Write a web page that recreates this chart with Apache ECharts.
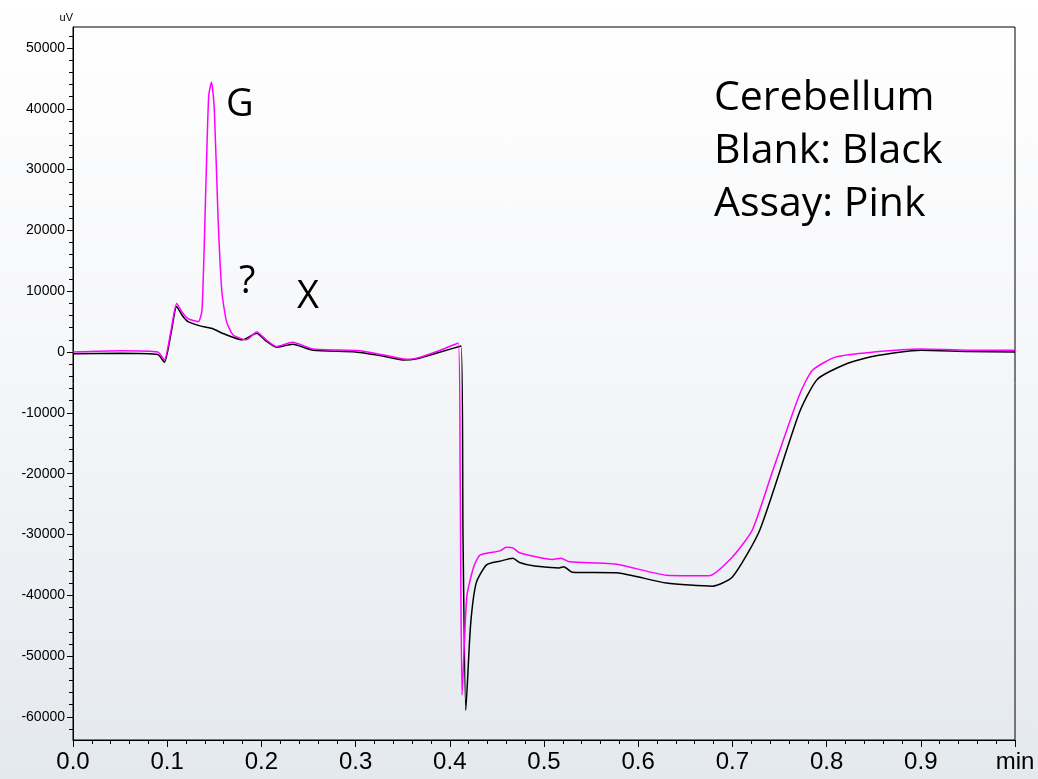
<!DOCTYPE html>
<html>
<head>
<meta charset="utf-8">
<script src="https://cdn.jsdelivr.net/npm/echarts@6/dist/echarts.min.js"></script>
<style>
  html,body{margin:0;padding:0;}
  body{background:linear-gradient(to bottom,#ffffff 0%,#f6f7f9 45%,#e4e9ee 100%);}
  #main{width:1038px;height:779px;}
</style>
</head>
<body>
<div id="main"></div>
<script>
// retention time (min) / signal (uV)
var blankX = [0, 0.05, 0.09, 0.097, 0.104, 0.110, 0.116, 0.122, 0.135, 0.147, 0.16, 0.18, 0.195, 0.205, 0.216, 0.233, 0.255, 0.30, 0.33, 0.35, 0.365, 0.39, 0.412, 0.414, 0.417, 0.422, 0.428, 0.439, 0.453, 0.467, 0.474, 0.49, 0.516, 0.521, 0.530, 0.577, 0.630, 0.679, 0.700, 0.729, 0.771, 0.79, 0.82, 0.85, 0.90, 0.95, 1.0];
var blankY = [-300, -200, -400, -1700, 3000, 7500, 6000, 5000, 4300, 3900, 3000, 2000, 3100, 1800, 800, 1300, 300, 0, -700, -1300, -1100, 0, 1000, -30000, -58900, -45000, -38000, -35000, -34400, -33900, -34600, -35200, -35500, -35300, -36200, -36300, -38000, -38500, -37000, -29300, -10000, -4500, -2000, -700, 300, 100, 0];
var assayX = [0, 0.05, 0.09, 0.097, 0.104, 0.110, 0.116, 0.122, 0.133, 0.137, 0.141, 0.144, 0.147, 0.150, 0.154, 0.158, 0.163, 0.170, 0.184, 0.195, 0.205, 0.216, 0.233, 0.255, 0.304, 0.33, 0.354, 0.365, 0.39, 0.409, 0.411, 0.413, 0.418, 0.425, 0.432, 0.453, 0.460, 0.467, 0.474, 0.509, 0.518, 0.527, 0.577, 0.630, 0.675, 0.700, 0.721, 0.742, 0.771, 0.785, 0.81, 0.85, 0.90, 0.95, 1.0];
var assayY = [0, 200, 0, -1300, 3500, 8000, 6500, 5500, 5000, 7000, 27000, 42000, 44400, 40000, 22000, 10000, 5000, 2800, 2000, 3300, 2000, 900, 1600, 500, 200, -500, -1200, -1000, 300, 1500, -20000, -56400, -40300, -35500, -33400, -32700, -32100, -32200, -33000, -34100, -33900, -34500, -34900, -36700, -36800, -33700, -29300, -19900, -7100, -3000, -800, 0, 500, 300, 300];
var yMajor = [50000, 40000, 30000, 20000, 10000, 0, -10000, -20000, -30000, -40000, -50000, -60000];

function pairs(xs, ys) {
  var out = [];
  for (var i = 0; i < xs.length; i++) out.push([xs[i], ys[i]]);
  return out;
}
var yMinor = [];
for (var v = -62000; v <= 52000; v += 2000) yMinor.push(v);

var chart = echarts.init(document.getElementById('main'));
chart.setOption({
  backgroundColor: 'transparent',
  animation: false,
  grid: {left: 73, right: 23, top: 27, bottom: 39, show: true, borderColor: '#000', borderWidth: 1},
  xAxis: {
    type: 'value', min: 0, max: 1.0, interval: 0.1,
    axisLine: {onZero: false, lineStyle: {color: '#000'}},
    axisTick: {length: 7, lineStyle: {color: '#000'}},
    minorTick: {show: true, splitNumber: 5, length: 4, lineStyle: {color: '#000'}},
    splitLine: {show: false},
    axisLabel: {fontSize: 24, color: '#000', fontFamily: 'Liberation Sans', margin: 10,
      formatter: function (v) { return v >= 0.999 ? 'min' : v.toFixed(1); }}
  },
  yAxis: [{
    type: 'value', min: -63800, max: 53450,
    axisLine: {show: true, onZero: false, lineStyle: {color: '#000'}},
    axisTick: {show: true, length: 6, customValues: yMajor, lineStyle: {color: '#000'}},
    axisLabel: {customValues: yMajor, fontSize: 14, color: '#000', fontFamily: 'Liberation Sans', margin: 8,
      formatter: function (v) { return String(v); }},
    splitLine: {show: false},
    name: 'uV', nameLocation: 'end', nameGap: 4,
    nameTextStyle: {fontSize: 11, color: '#000', fontFamily: 'Liberation Sans', align: 'right'}
  }, {
    type: 'value', min: -63800, max: 53450, position: 'left',
    axisLine: {show: false},
    axisTick: {show: true, length: 4, customValues: yMinor, lineStyle: {color: '#000'}},
    axisLabel: {show: false},
    splitLine: {show: false}
  }],
  series: [{
    name: 'Blank', type: 'line', data: pairs(blankX, blankY),
    showSymbol: false, smooth: 0.2, lineStyle: {color: '#000', width: 1.5}
  }, {
    name: 'Assay', type: 'line', data: pairs(assayX, assayY),
    showSymbol: false, smooth: 0.2, lineStyle: {color: '#ff00ff', width: 1.5}
  }],
  graphic: [
    {type: 'text', left: 714, top: 72, style: {text: 'Cerebellum\nBlank: Black\nAssay: Pink', fontSize: 41, lineHeight: 53, fill: '#000', fontFamily: 'Open Sans'}},
    {type: 'text', left: 226, top: 86, style: {text: 'G', fontSize: 38, fill: '#000', fontFamily: 'Open Sans'}},
    {type: 'text', left: 239, top: 263, style: {text: '?', fontSize: 38, fill: '#000', fontFamily: 'Open Sans'}},
    {type: 'text', left: 297, top: 278, style: {text: 'X', fontSize: 38, fill: '#000', fontFamily: 'Open Sans'}}
  ]
});
</script>
</body>
</html>
